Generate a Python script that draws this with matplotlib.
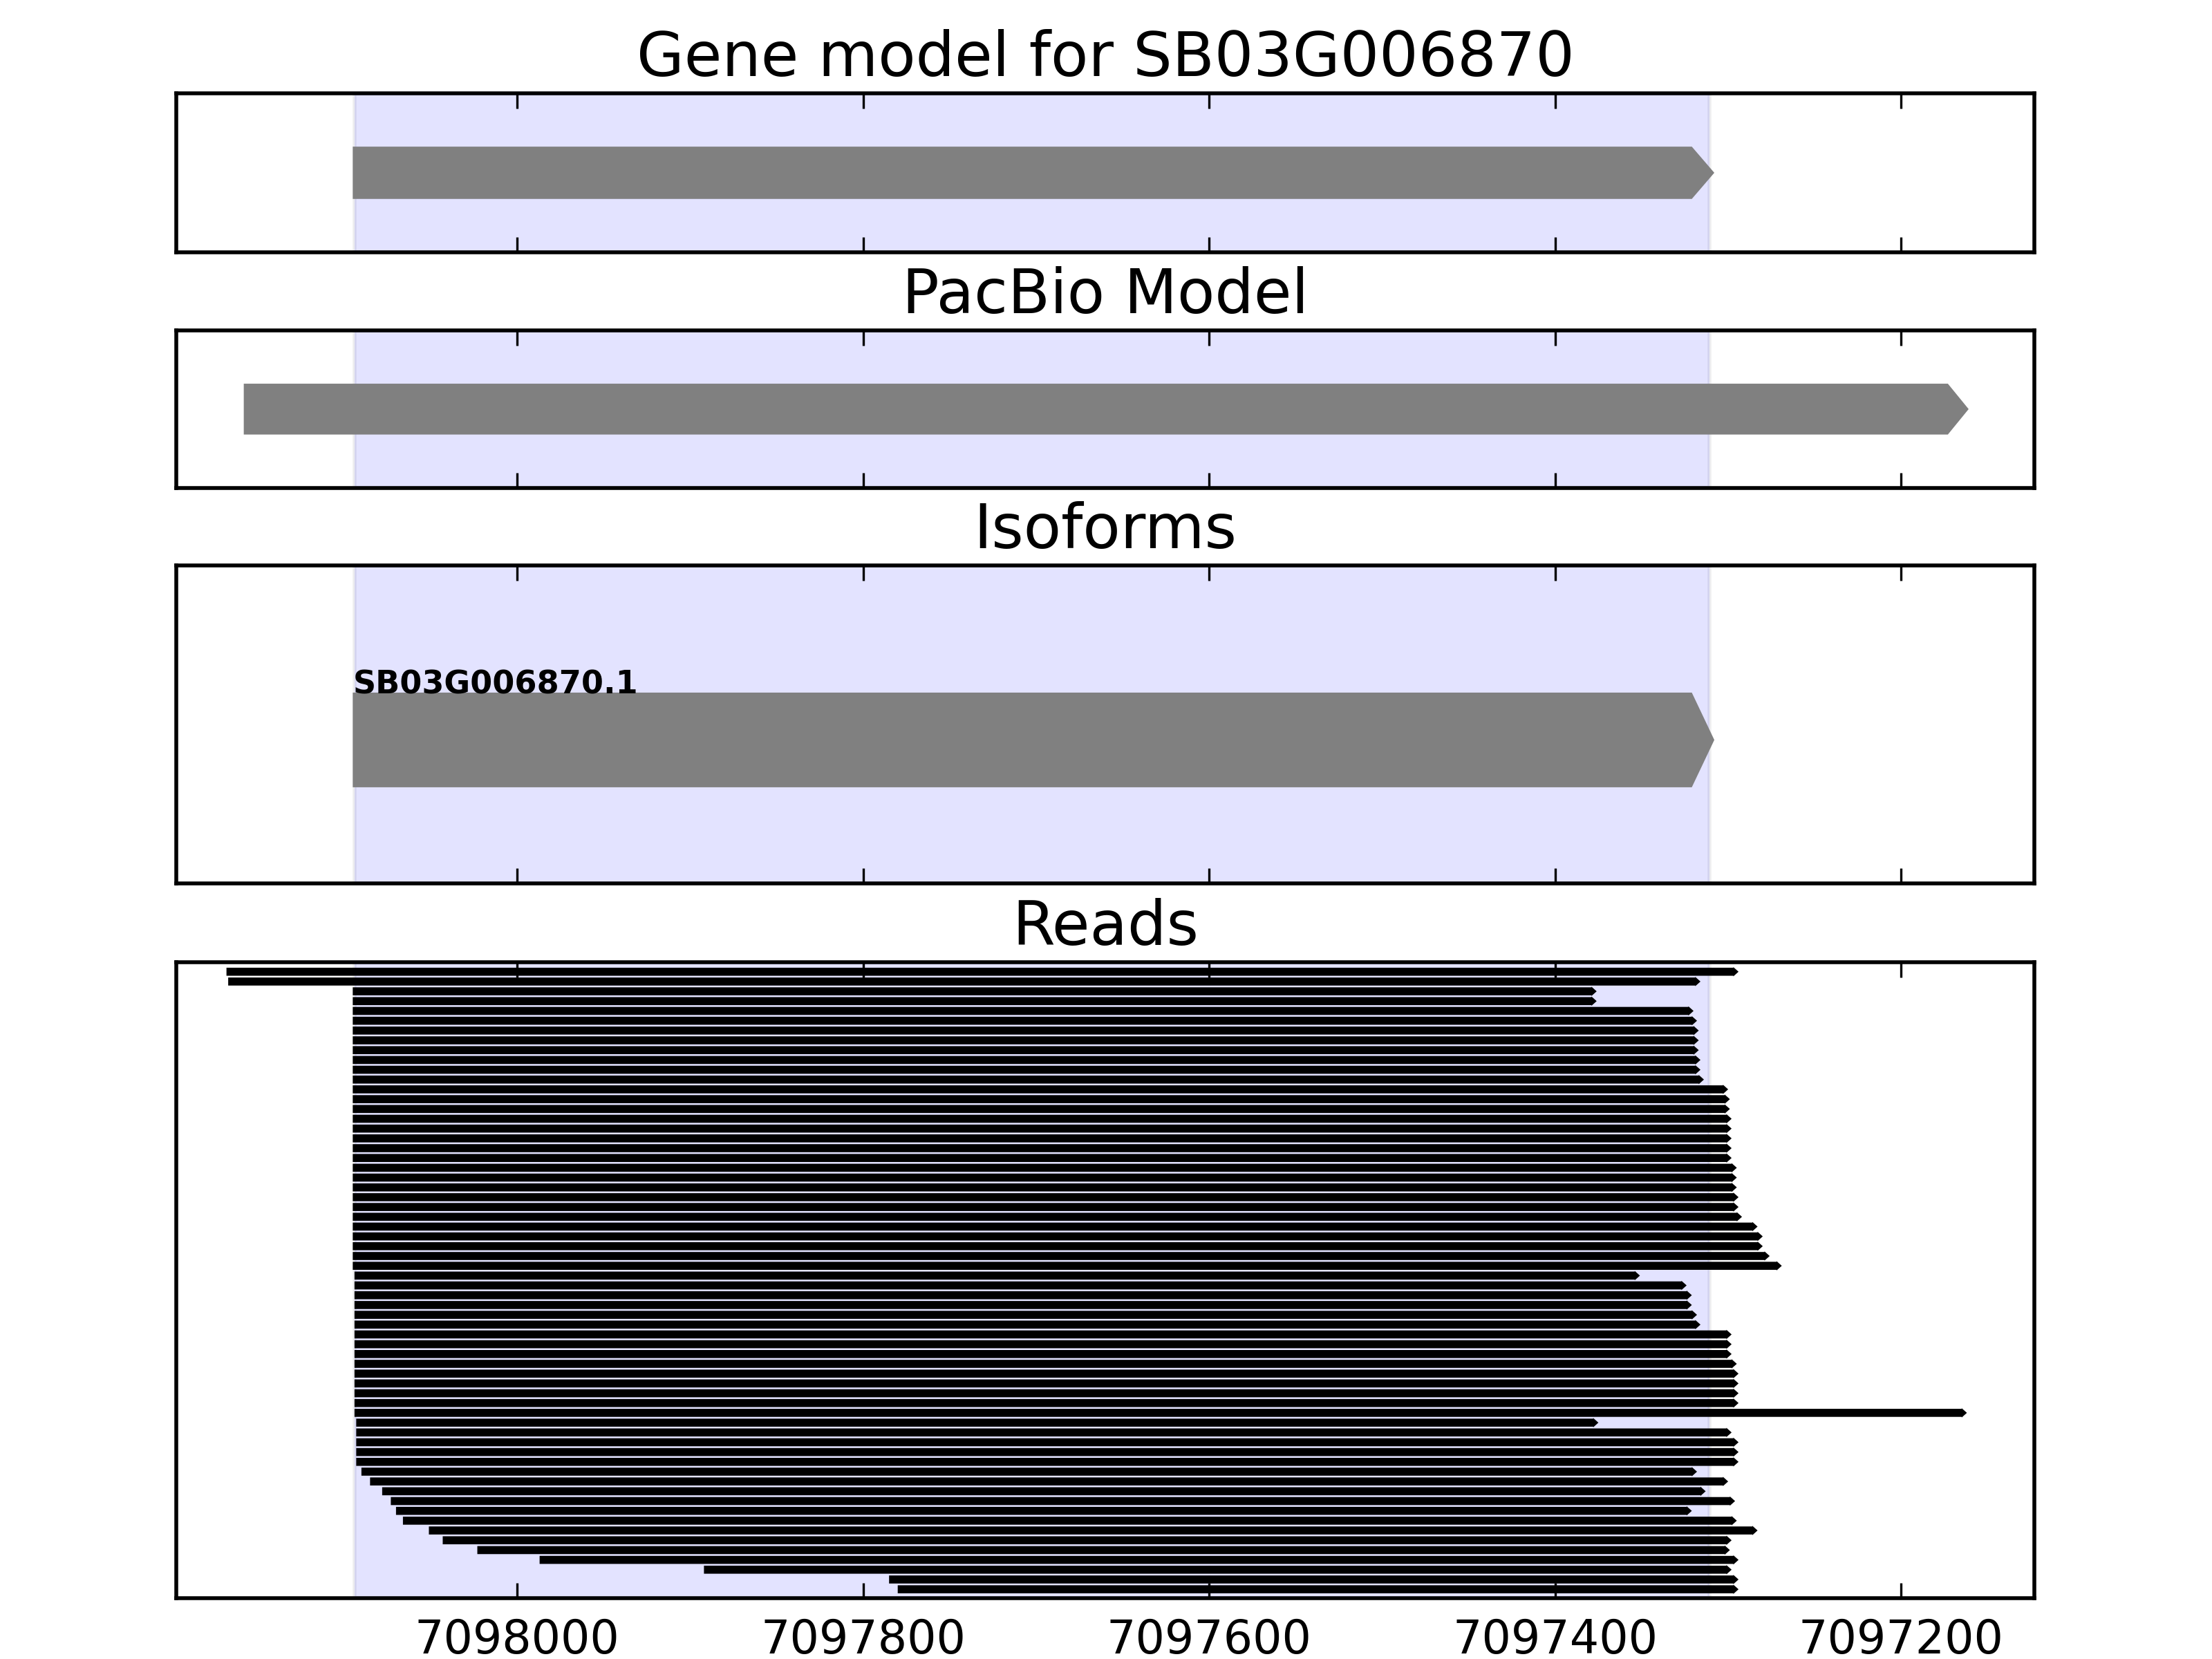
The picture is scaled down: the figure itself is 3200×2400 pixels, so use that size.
import matplotlib
matplotlib.use("Agg")
import matplotlib.pyplot as plt
from matplotlib.patches import FancyArrow
from matplotlib.ticker import FormatStrFormatter

# ---------------- data ----------------
gene_name = "SB03G006870"
gene_start = 7098095
gene_end = 7097308

pacbio_start = 7098158
pacbio_end = 7097161

isoform_names = ["SB03G006870.1"]
isoform_starts = [7098095]
isoform_ends = [7097308]

span_start = 7098094
span_end = 7097311

read_starts = [
    7098168, 7098167, 7098095, 7098095, 7098095, 7098095, 7098095, 7098095,
    7098095, 7098095, 7098095, 7098095, 7098095, 7098095, 7098095, 7098095,
    7098095, 7098095, 7098095, 7098095, 7098095, 7098095, 7098095, 7098095,
    7098095, 7098095, 7098095, 7098095, 7098095, 7098095, 7098095, 7098094,
    7098094, 7098094, 7098094, 7098094, 7098094, 7098094, 7098094, 7098094,
    7098094, 7098094, 7098094, 7098094, 7098094, 7098094, 7098093, 7098093,
    7098093, 7098093, 7098093, 7098090, 7098085, 7098078, 7098073, 7098070,
    7098066, 7098051, 7098043, 7098023, 7097987, 7097892, 7097785, 7097780,
]
read_ends = [
    7097294, 7097316, 7097376, 7097376, 7097320, 7097318, 7097317, 7097317,
    7097317, 7097316, 7097316, 7097314, 7097300, 7097299, 7097299, 7097298,
    7097298, 7097298, 7097298, 7097298, 7097295, 7097295, 7097295, 7097294,
    7097294, 7097292, 7097283, 7097280, 7097280, 7097276, 7097269, 7097351,
    7097324, 7097321, 7097321, 7097318, 7097316, 7097298, 7097298, 7097298,
    7097295, 7097294, 7097294, 7097294, 7097294, 7097162, 7097375, 7097298,
    7097294, 7097294, 7097294, 7097318, 7097300, 7097313, 7097296, 7097321,
    7097295, 7097283, 7097298, 7097299, 7097294, 7097298, 7097294, 7097294,
]

x_ticks = [7098000, 7097800, 7097600, 7097400, 7097200]
x_left, x_right = 7098197, 7097123

titles = ["Gene model for " + gene_name, "PacBio Model", "Isoforms", "Reads"]

# ---------------- style ----------------
plt.rcParams.update({
    "font.family": ["DejaVu Sans"],
    "font.size": 12,
    "axes.linewidth": 1.0,
    "xtick.direction": "in",
    "xtick.top": True,
    "xtick.bottom": True,
    "xtick.major.size": 4,
    "xtick.major.width": 0.6,
    "xtick.major.pad": 5,
    "xtick.labelsize": 12,
})

fig = plt.figure(figsize=(8, 6), dpi=400)
L, W = 0.0797, 0.840
positions = [
    [L, 0.8478, W, 0.0961],
    [L, 0.7058, W, 0.0952],
    [L, 0.4677, W, 0.1915],
    [L, 0.0367, W, 0.3833],
]
axes = [fig.add_axes(p) for p in positions]

gray = "#808080"


def gene_arrow(ax, start, end, yc, height, color, head_len, head_w=None):
    if head_w is None:
        head_w = height
    ax.add_patch(FancyArrow(start, yc, end - start, 0, width=height,
                            head_width=head_w, head_length=head_len,
                            length_includes_head=True, color=color, lw=0))


for ax, title in zip(axes, titles):
    ax.axvspan(span_start, span_end, facecolor="blue", edgecolor="#606070",
               alpha=0.11, lw=1.0, zorder=0)
    ax.set_xlim(x_left, x_right)
    ax.set_xticks(x_ticks)
    ax.xaxis.set_major_formatter(FormatStrFormatter("%d"))
    ax.set_yticks([])
    ax.set_title(title, fontsize=16, pad=4.5)

# gene model
ax = axes[0]
ax.set_ylim(0, 1)
gene_arrow(ax, gene_start, gene_end, 0.5, 0.328, gray, 13)

# pacbio model
ax = axes[1]
ax.set_ylim(0, 1)
gene_arrow(ax, pacbio_start, pacbio_end, 0.5, 0.322, gray, 12)

# isoforms
ax = axes[2]
ax.set_ylim(0, 1)
for name, s, e in zip(isoform_names, isoform_starts, isoform_ends):
    gene_arrow(ax, s, e, 0.4506, 0.298, gray, 13)
    ax.text(s, 0.597, name, fontsize=8.3, fontweight="bold",
            ha="left", va="baseline")

# reads
ax = axes[3]
for i, (s, e) in enumerate(zip(read_starts, read_ends)):
    gene_arrow(ax, s, e, i, 0.82, "black", 3, head_w=0.95)
ax.set_ylim(len(read_starts) - 0.1, -0.97)

for ax in axes[:3]:
    ax.tick_params(labelbottom=False)

fig.savefig("out.png", dpi=400, facecolor="white")
